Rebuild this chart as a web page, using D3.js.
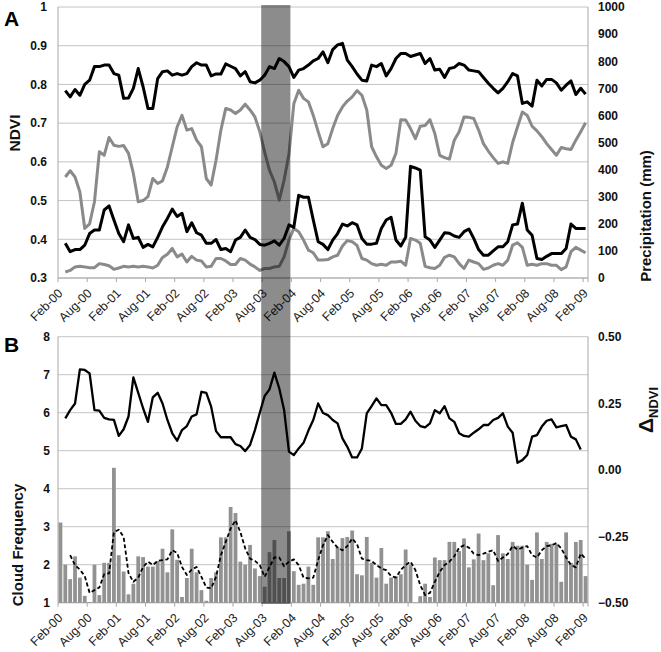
<!DOCTYPE html>
<html><head><meta charset="utf-8">
<script src="https://cdn.jsdelivr.net/npm/d3@7"></script>
<style>
body{margin:0;background:#fff}
text{font-family:"Liberation Sans",Arial,sans-serif}
</style>
</head><body>
<svg id="chart" width="661" height="652"></svg>
<script>
// ---------------- data ----------------
const tickLabels = ["Feb-00","Aug-00","Feb-01","Aug-01","Feb-02","Aug-02","Feb-03","Aug-03","Feb-04","Aug-04",
  "Feb-05","Aug-05","Feb-06","Aug-06","Feb-07","Aug-07","Feb-08","Aug-08","Feb-09"];
const nCategories = 109; // monthly, Feb-00 .. Feb-09
const shadeFrom = 42, shadeTo = 48; // Aug-03 .. Jan-04

// Panel A (index 0 = Feb-00; null = no value)
const ndviUpper = [null,
 .784,.768,.787,.772,.800,.811,.846,.846,.850,.850,.828,.824,.764,.765,.790,.841,.794,.738,.738,.815,
 .833,.835,.824,.828,.824,.828,.846,.856,.850,.850,.822,.827,.827,.853,.847,.841,.822,.833,.807,.804,
 .811,.824,.846,.841,.867,.859,.846,.818,.837,.841,.850,.861,.867,.884,.856,.890,.902,.906,.863,.846,
 .827,.811,.809,.850,.846,.854,.822,.841,.867,.880,.880,.872,.876,.880,.854,.867,.837,.839,.818,.841,
 .844,.854,.850,.837,.835,.833,.818,.803,.790,.778,.790,.807,.828,.822,.751,.755,.744,.811,.796,.813,
 .813,.804,.785,.798,.809,.774,.790,.775];
const ndviGray = [null,
 .561,.577,.561,.522,.428,.440,.497,.626,.617,.663,.643,.640,.642,.622,.570,.497,.500,.510,.557,.544,
 .551,.587,.639,.690,.720,.682,.686,.656,.639,.557,.540,.604,.682,.738,.734,.725,.734,.749,.734,.716,
 .678,.625,.578,.548,.501,.553,.620,.750,.785,.764,.755,.720,.678,.639,.647,.686,.720,.742,.757,.768,
 .784,.772,.734,.639,.613,.591,.583,.591,.622,.709,.708,.686,.660,.692,.694,.709,.673,.617,.611,.607,
 .656,.678,.716,.715,.712,.682,.647,.628,.611,.596,.600,.596,.650,.690,.729,.720,.692,.680,.665,.647,
 .632,.617,.637,.634,.632,.656,.678,.701];
const precipBlack = [null,
 128,97,105,105,121,164,177,177,251,266,214,164,134,196,146,150,113,124,115,150,
 189,220,254,227,239,171,204,167,158,128,128,142,105,109,97,140,150,177,150,142,
 124,121,128,137,121,146,196,187,305,298,298,214,134,124,105,140,164,199,192,204,
 196,146,125,125,128,183,214,224,140,118,150,412,406,398,152,140,113,140,167,165,
 155,150,171,181,146,105,84,84,100,115,115,134,196,199,276,177,158,72,68,80,
 90,90,90,109,199,183,183,183];
const precipGray = [null,
 22,28,41,43,41,38,38,53,50,45,32,37,43,41,43,41,43,41,37,47,
 76,88,109,78,88,59,80,66,63,41,43,72,72,63,50,50,72,66,51,41,
 28,35,35,41,43,78,140,183,171,140,103,93,66,66,68,78,84,118,138,134,
 120,72,66,53,47,51,47,59,59,62,47,146,140,128,43,38,35,47,76,84,
 78,53,35,66,59,53,32,37,47,53,47,66,121,130,113,47,51,47,53,53,
 47,47,31,41,97,113,103,93];

// Panel B
const cloudFreq = [
 3.11,2.00,1.62,2.22,1.66,1.18,1.02,2.00,1.20,2.05,2.05,4.55,2.25,1.82,1.22,1.50,2.22,2.20,1.95,1.95,
 2.10,2.42,1.80,2.93,2.13,1.15,1.65,2.42,1.80,1.33,1.05,1.65,1.80,2.72,2.72,3.52,3.36,2.08,2.00,2.52,
 1.90,1.70,1.42,2.33,2.65,1.65,1.65,2.88,1.83,1.47,1.50,1.95,1.47,2.72,2.72,2.88,2.15,2.47,2.70,2.73,
 2.90,1.75,1.72,2.73,2.05,1.66,2.44,1.50,1.66,1.70,1.75,2.40,2.00,1.00,1.17,1.50,1.15,2.19,2.12,2.12,
 2.60,2.60,2.36,2.69,1.93,2.14,2.82,2.12,2.30,1.46,2.78,2.30,2.15,2.60,2.50,2.50,2.00,1.60,2.85,2.15,
 2.60,2.55,2.55,1.55,2.85,2.05,2.60,2.65,1.70];
const cloudMean = [null,null,
 2.25,1.99,1.87,1.70,1.26,1.33,1.40,1.75,1.77,2.86,2.92,2.73,1.78,1.55,1.66,1.94,2.08,1.99,2.10,
 2.12,2.14,2.38,2.31,1.94,1.73,1.87,1.94,1.68,1.40,1.38,1.68,2.25,2.60,2.95,3.17,2.86,2.43,2.16,2.10,
 1.99,1.68,1.94,2.19,2.19,1.96,2.08,2.14,1.99,1.66,1.64,1.66,2.12,2.51,2.78,2.60,2.45,2.38,2.49,2.69,
 2.54,2.16,2.12,2.10,1.99,1.90,1.86,1.70,1.66,1.86,1.99,2.08,1.86,1.46,1.20,1.26,1.55,1.81,1.99,2.08,
 2.22,2.45,2.51,2.45,2.29,2.25,2.29,2.34,2.38,2.10,2.19,2.28,2.49,2.40,2.45,2.49,2.25,2.19,2.38,2.49,
 2.51,2.57,2.43,2.19,1.99,1.93,2.29,2.16];
const deltaNDVI = [null,
 .193,.224,.249,.377,.375,.362,.224,.222,.195,.189,.187,.127,.152,.200,.347,.289,.231,.180,.272,.289,
 .249,.187,.137,.109,.149,.164,.200,.208,.293,.289,.237,.145,.122,.122,.122,.096,.089,.070,.093,.149,
 .214,.277,.302,.365,.306,.224,.068,.055,.080,.101,.147,.187,.249,.213,.205,.187,.174,.118,.086,.046,
 .046,.080,.212,.239,.268,.243,.243,.214,.172,.172,.189,.218,.184,.164,.159,.174,.224,.212,.239,.193,
 .180,.137,.127,.124,.139,.152,.168,.168,.187,.195,.212,.162,.139,.026,.036,.055,.124,.130,.162,.184,
 .189,.159,.164,.168,.124,.114,.076,null];

const ndviTicks = [0.3,0.4,0.5,0.6,0.7,0.8,0.9,1];
const precipTicks = [0,100,200,300,400,500,600,700,800,900,1000];
const cloudTicks = [1,2,3,4,5,6,7,8];
const deltaTicks = [-0.5,-0.25,0,0.25,0.5];

// ---------------- layout ----------------
const svg = d3.select("#chart");
const L = 58, R = 588;
const A = {top: 7, bottom: 278};
const B = {top: 336.7, bottom: 602.7};
const gridCol = "#c4c4c4", axisCol = "#a8a8a8";

const x = d3.scaleBand().domain(d3.range(nCategories)).range([L, R]).padding(0);
const bw = x.bandwidth();
const xc = i => x(i) + bw / 2;

const yNdvi = d3.scaleLinear().domain([0.3, 1]).range([A.bottom, A.top]);
const yPrec = d3.scaleLinear().domain([0, 1000]).range([A.bottom, A.top]);
const yCloud = d3.scaleLinear().domain([1, 8]).range([B.bottom, B.top]);
const yDelta = d3.scaleLinear().domain([-0.5, 0.5]).range([B.bottom, B.top]);

// grid
svg.append("g").selectAll("line").data(ndviTicks).join("line")
  .attr("x1", L).attr("x2", R).attr("y1", d => yNdvi(d)).attr("y2", d => yNdvi(d))
  .attr("stroke", gridCol).attr("stroke-width", 1);
svg.append("g").selectAll("line").data(cloudTicks).join("line")
  .attr("x1", L).attr("x2", R).attr("y1", d => yCloud(d)).attr("y2", d => yCloud(d))
  .attr("stroke", gridCol).attr("stroke-width", 1);

// vertical axis lines
[[A.top, A.bottom], [B.top, B.bottom]].forEach(([t, b]) => {
  svg.append("line").attr("x1", L).attr("x2", L).attr("y1", t).attr("y2", b).attr("stroke", axisCol);
  svg.append("line").attr("x1", R).attr("x2", R).attr("y1", t).attr("y2", b + 4).attr("stroke", axisCol);
});

// x axes (ticks at category boundaries, labels at centres)
function xAxis(yPos) {
  const g = svg.append("g");
  g.append("line").attr("x1", L).attr("x2", R).attr("y1", yPos).attr("y2", yPos).attr("stroke", axisCol);
  const idx = d3.range(0, nCategories, 6);
  g.selectAll("line.t").data(idx).join("line").attr("class", "t")
    .attr("x1", d => x(d)).attr("x2", d => x(d)).attr("y1", yPos).attr("y2", yPos + 4)
    .attr("stroke", axisCol);
  g.selectAll("text").data(idx).join("text")
    .attr("transform", d => `translate(${xc(d) + 3},${yPos + 16}) rotate(-45)`)
    .attr("text-anchor", "end").attr("font-size", 12.5).attr("fill", "#222")
    .text((d, k) => tickLabels[k]);
}
xAxis(A.bottom);
xAxis(B.bottom);

// y tick labels
function yLabels(ticks, scale, xPos, anchor, fmt) {
  svg.append("g").selectAll("text").data(ticks).join("text")
    .attr("x", xPos).attr("y", d => scale(d)).attr("dy", "0.36em")
    .attr("text-anchor", anchor).attr("font-size", 12).attr("font-weight", "bold").attr("fill", "#111")
    .text(fmt);
}
yLabels(ndviTicks, yNdvi, 47, "end", d => d3.format("")(d));
yLabels(precipTicks, yPrec, 598, "start", d => d);
yLabels(cloudTicks, yCloud, 50, "end", d => d);
yLabels(deltaTicks, yDelta, 598, "start", d => d3.format(".2f")(d));

// bars
const barW = bw * 0.78;
svg.append("g").selectAll("rect").data(cloudFreq).join("rect")
  .attr("x", (d, i) => xc(i) - barW / 2).attr("width", barW)
  .attr("y", d => yCloud(d)).attr("height", d => yCloud(1) - yCloud(d))
  .attr("fill", "#929292");

// lines
function drawLine(data, scale, color, width, dash) {
  const gen = d3.line().defined(d => d != null).x((d, i) => xc(i)).y(d => scale(d));
  const p = svg.append("path").datum(data).attr("d", gen)
    .attr("fill", "none").attr("stroke", color).attr("stroke-width", width)
    .attr("stroke-linejoin", "round");
  if (dash) p.attr("stroke-dasharray", dash);
}
drawLine(ndviGray, yNdvi, "#8a8a8a", 3);
drawLine(precipGray, yPrec, "#8a8a8a", 3);
drawLine(ndviUpper, yNdvi, "#000", 3);
drawLine(precipBlack, yPrec, "#000", 3);
drawLine(cloudMean, yCloud, "#000", 1.8, "4,2.5");
drawLine(deltaNDVI, yDelta, "#000", 2.3);

// shaded period
svg.append("rect").attr("x", x(shadeFrom) - 1).attr("width", x(shadeTo) - x(shadeFrom))
  .attr("y", 5).attr("height", 604 - 5).attr("fill", "#000").attr("opacity", 0.45);

// titles
function vTitle(txt, cx, cy, size) {
  svg.append("text").attr("transform", `translate(${cx},${cy}) rotate(-90)`)
    .attr("text-anchor", "middle").attr("font-size", size).attr("font-weight", "bold").attr("fill", "#111")
    .text(txt);
}
vTitle("NDVI", 20, 133, 15.5);
vTitle("Precipitation (mm)", 651, 216, 15);
vTitle("Cloud Frequency", 23, 545, 15);
const dt = svg.append("text").attr("transform", "translate(653,410) rotate(-90)")
  .attr("text-anchor", "middle").attr("font-weight", "bold").attr("fill", "#111");
dt.append("tspan").attr("font-size", 21).text("Δ");
dt.append("tspan").attr("font-size", 13).attr("dy", 5).text("NDVI");

svg.append("text").attr("x", 4).attr("y", 26).attr("font-size", 21).attr("font-weight", "bold").text("A");
svg.append("text").attr("x", 4).attr("y", 352).attr("font-size", 21).attr("font-weight", "bold").text("B");
</script>
</body></html>
